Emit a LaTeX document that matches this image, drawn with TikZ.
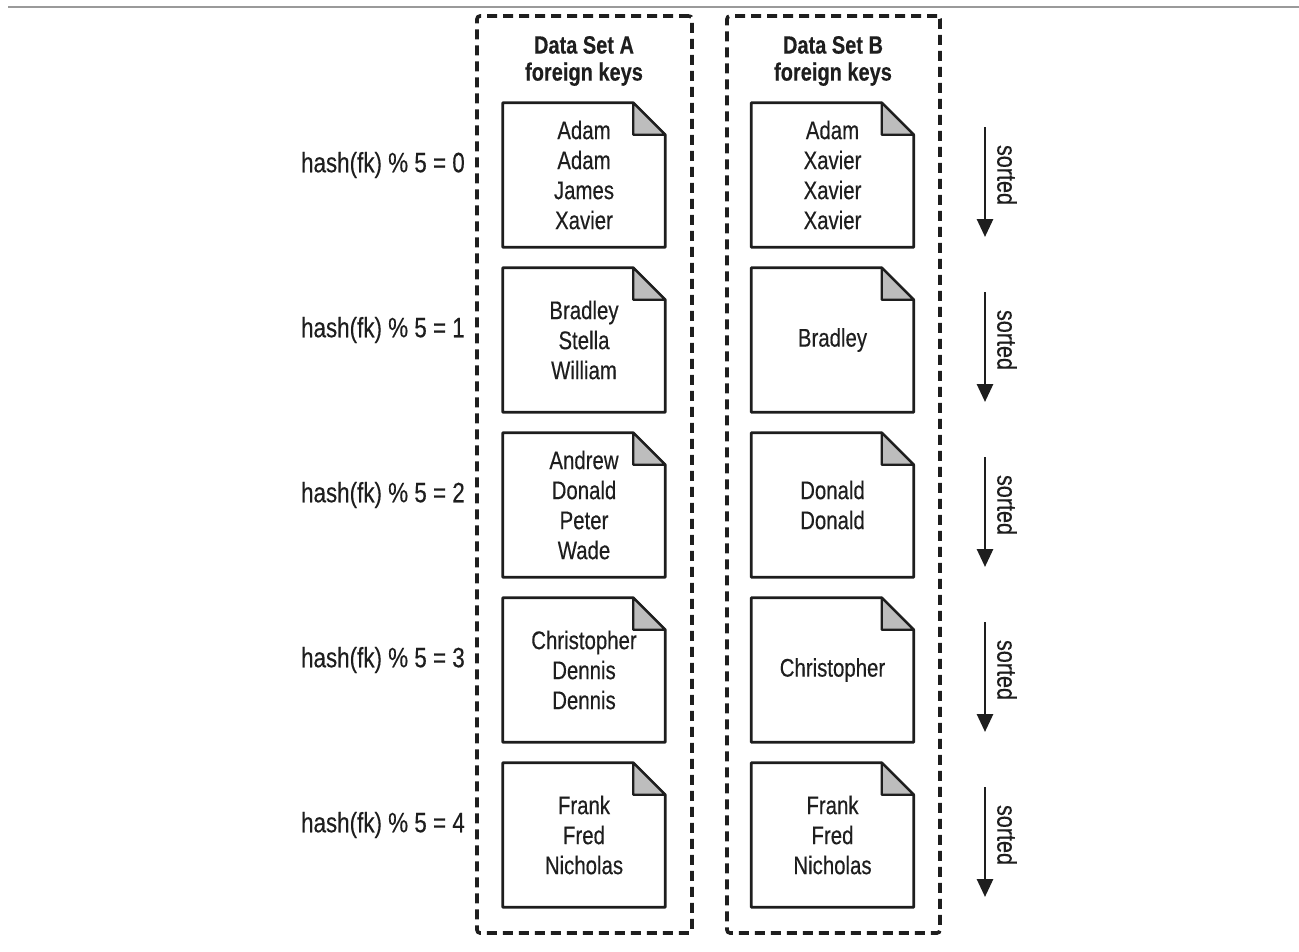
\documentclass[tikz,border=0pt]{standalone}
\usepackage{fontspec}
\setmainfont{Liberation Sans}[FakeStretch=0.8,FakeBold=0.35]
\usetikzlibrary{arrows.meta}
\definecolor{ink}{HTML}{1E1E1E}
\definecolor{foldgray}{HTML}{BDBDBD}
\definecolor{rulegray}{HTML}{9A9A9A}
\tikzset{
  setbox/.style={draw=ink, line width=3.6pt, dash pattern=on 10pt off 6pt, rounded corners=3pt},
  doctext/.style={align=center, text=ink, font=\fontsize{25.5}{30}\selectfont, minimum width=162pt, minimum height=144pt, inner sep=0pt},
  docline/.style={draw=ink, line width=2.8pt, line join=round},
  foldfill/.style={fill=foldgray, draw=ink, line width=2.2pt, line join=round},
  hashlabel/.style={anchor=east, text=ink, font=\fontsize{28}{30}\selectfont, inner sep=0pt},
  titletext/.style={align=center, text=ink, font=\fontsize{25}{27}\selectfont\bfseries, inner sep=0pt},
  sortarrow/.style={draw=ink, line width=2.8pt, -{Triangle[length=18pt,width=16pt]}},
  sortlabel/.style={rotate=-90, text=ink, font=\fontsize{27}{30}\selectfont, inner sep=0pt}
}
\newcommand{\docshape}[1]{%
  \draw[docline] (#1.north west) -- ([xshift=-32pt]#1.north east) -- ([yshift=-32pt]#1.north east) -- (#1.south east) -- (#1.south west) -- cycle;
  \draw[foldfill] ([xshift=-32pt]#1.north east) -- ([xshift=-32pt,yshift=-32pt]#1.north east) -- ([yshift=-32pt]#1.north east) -- cycle;
}
\begin{document}
\begin{tikzpicture}[x=1pt,y=-1pt]
\useasboundingbox (0,0) rectangle (1299,951);
% top rule
\coordinate (ruleL) at (8,7);
\coordinate (ruleR) at (1299,7);
\draw[rulegray, line width=2.5pt] (ruleL) -- (ruleR);
% dashed set boxes
\node[setbox, minimum width=215pt, minimum height=917pt, inner sep=0pt] (boxA) at (584.5,474.5) {};
\node[setbox, minimum width=213pt, minimum height=917pt, inner sep=0pt] (boxB) at (833.5,474.5) {};
\node[titletext] (titleA) at (584,61) {Data Set A\\foreign keys};
\node[titletext] (titleB) at (833,61) {Data Set B\\foreign keys};
% documents A
\node[doctext] (a0) at (584,175) {Adam\\Adam\\James\\Xavier};
\node[doctext] (a1) at (584,340) {Bradley\\Stella\\William};
\node[doctext] (a2) at (584,505) {Andrew\\Donald\\Peter\\Wade};
\node[doctext] (a3) at (584,670) {Christopher\\Dennis\\Dennis};
\node[doctext] (a4) at (584,835) {Frank\\Fred\\Nicholas};
% documents B
\node[doctext] (b0) at (832.5,175) {Adam\\Xavier\\Xavier\\Xavier};
\node[doctext] (b1) at (832.5,340) {Bradley};
\node[doctext] (b2) at (832.5,505) {Donald\\Donald};
\node[doctext] (b3) at (832.5,670) {Christopher};
\node[doctext] (b4) at (832.5,835) {Frank\\Fred\\Nicholas};
\foreach \d in {a0,a1,a2,a3,a4,b0,b1,b2,b3,b4} {\docshape{\d}}
% hash labels
\foreach \k in {0,...,4} {
  \node[hashlabel] (h\k) at (465,{165+165*\k}) {hash(fk) \% 5 = \k};
  \coordinate (st\k) at (985,{127+165*\k});
  \coordinate (sb\k) at (985,{237+165*\k});
  \draw[sortarrow] (st\k) -- (sb\k);
  \node[sortlabel] (sl\k) at (1007,{175+165*\k}) {sorted};
}
\end{tikzpicture}
\end{document}
